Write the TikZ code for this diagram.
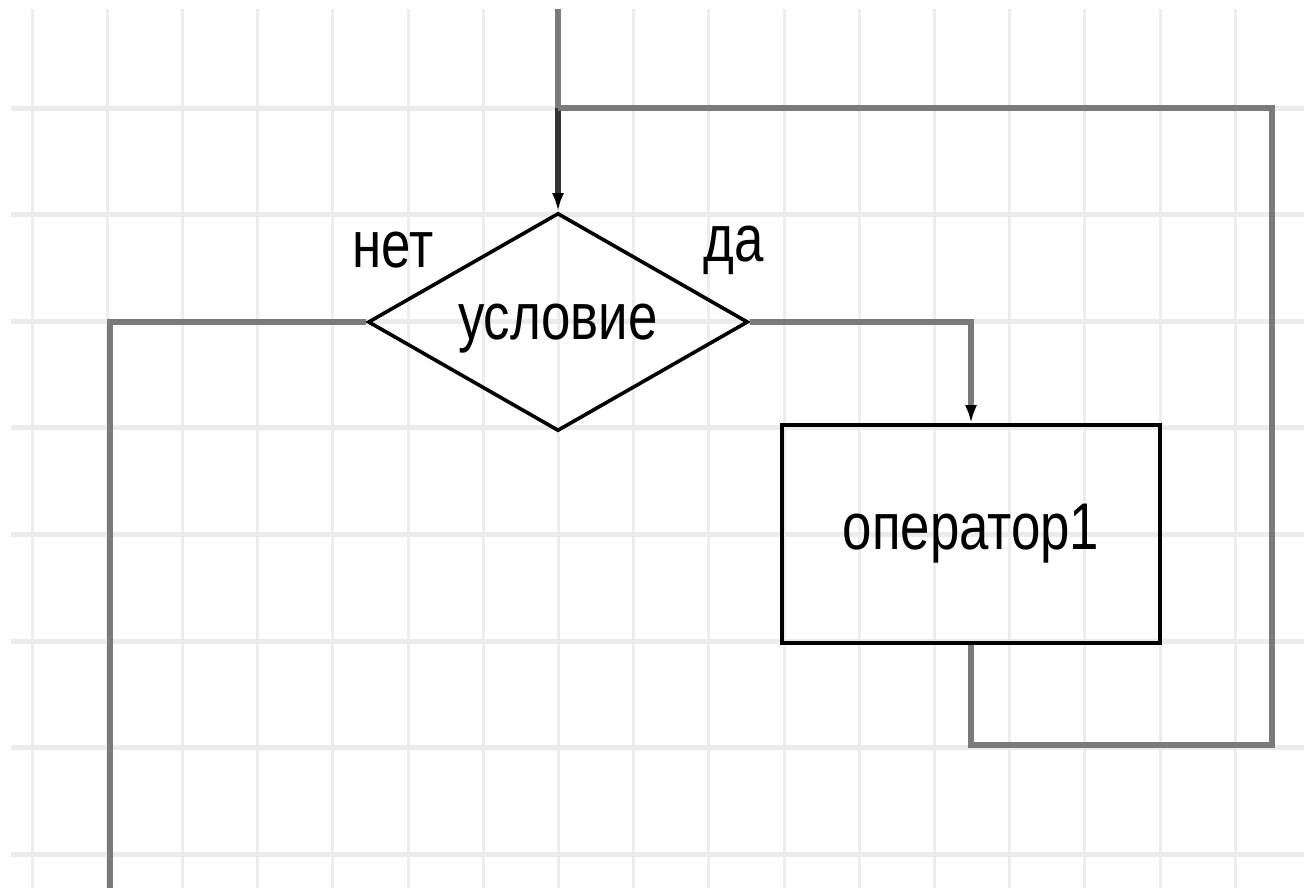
\documentclass[tikz,border=0pt]{standalone}
\usepackage{fontspec}
\setmainfont{Liberation Sans}[FakeStretch=0.8]
\usetikzlibrary{shapes.geometric, arrows.meta}

\begin{document}
\begin{tikzpicture}[x=0.5pt, y=-0.5pt, font=\fontsize{33}{40}\selectfont,
                    line/.style={draw=black!52, line width=2.7pt},
                    >={Latex[length=9pt, width=6pt, color=black]}]
                            \useasboundingbox (0,0) rectangle (1304,888);
                            % grid
                            \foreach \i in {0,...,16}
                                \draw[black!7, line width=1.5pt] ({32+75.2*\i},9) -- ({32+75.2*\i},888);
                            \foreach \i in {0,...,7}
                                \draw[black!8, line width=2.5pt] (11,{108+106.6*\i}) -- (1304,{108+106.6*\i});

                            \node (cond) at (558,322) [diamond, aspect=1.74, draw, line width=1.8pt, inner sep=0pt, text depth=0pt, minimum width=190pt, minimum height=109pt] {условие};
                            \node (op) at (971,534) [draw, line width=1.8pt, minimum width=189pt, minimum height=109pt] {оператор1};
                            \node (no) at (393,250) {нет};
                            \node (yes) at (734,250) {да};

                            \coordinate (start) at (558,9);
                            \coordinate (join) at (558,108);
                            \coordinate (exit) at (110,888);
                            \coordinate (back) at (1272,745);

                            \draw[line] (start) -- (join);
                            \draw[line, draw=black!80, ->] (join) -- (cond.north);
                            \draw[line] (cond.west) -| (exit);
                            \draw[line, ->] (cond.east) -| (op.north);
                            \draw[line] (op.south) |- (back) |- (join);
                        \end{tikzpicture}
\end{document}
